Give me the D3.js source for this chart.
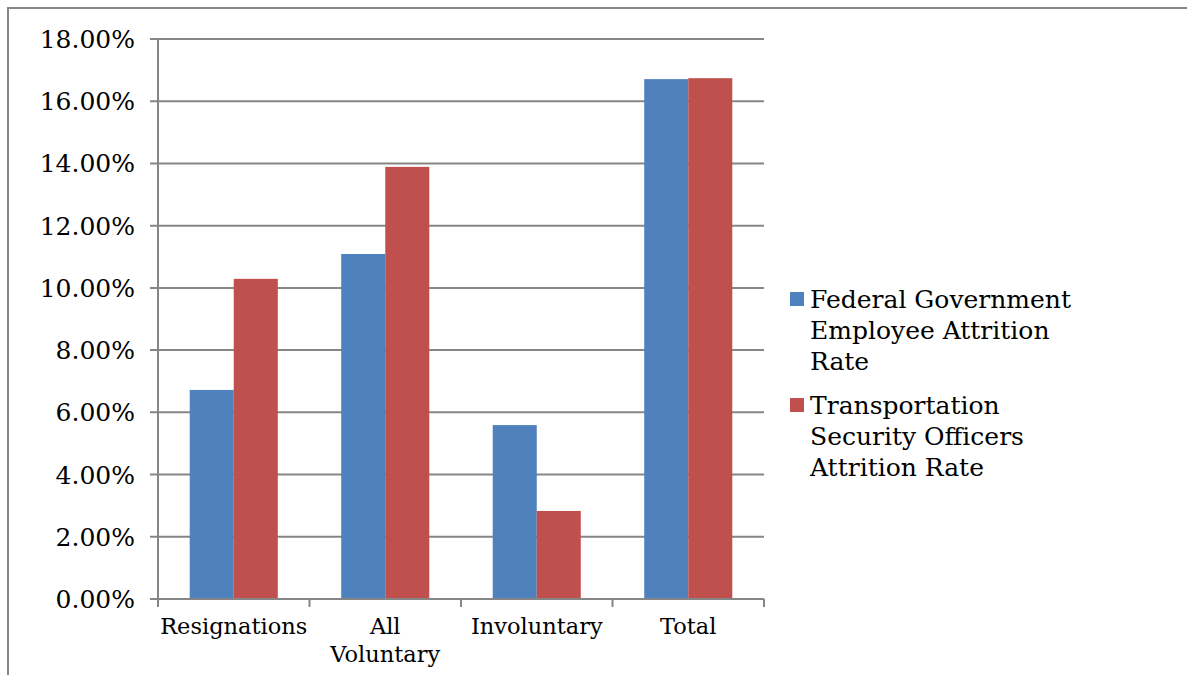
<!DOCTYPE html>
<html>
<head>
<meta charset="utf-8">
<script src="https://cdn.jsdelivr.net/npm/d3@7"></script>
<style>
  body { margin: 0; background: #fff; }
  text { font-family: "DejaVu Serif", serif; fill: #000; }
</style>
</head>
<body>
<svg id="chart" width="1187" height="675"></svg>
<script>
// data
var categories = [["Resignations"], ["All", "Voluntary"], ["Involuntary"], ["Total"]];
var seriesNames = [
  ["Federal Government", "Employee Attrition", "Rate"],
  ["Transportation", "Security Officers", "Attrition Rate"]
];
var federalRates = [0.0672, 0.1109, 0.0559, 0.1671];
var tsoRates = [0.1029, 0.1389, 0.0283, 0.1674];
var yTicks = [0, 0.02, 0.04, 0.06, 0.08, 0.10, 0.12, 0.14, 0.16, 0.18];
var colors = ["#4F81BD", "#C0504D"];

var svg = d3.select("#chart");
var grey = "#868686";

// outer chart border (runs off the right/bottom edges)
svg.append("rect")
  .attr("x", 8).attr("y", 8)
  .attr("width", 1200).attr("height", 700)
  .attr("fill", "none").attr("stroke", grey).attr("stroke-width", 2);

var plotLeft = 158, plotRight = 764, plotTop = 39, plotBottom = 599;

var y = d3.scaleLinear().domain([0, 0.18]).range([plotBottom, plotTop]);
var x0 = d3.scaleBand().domain(d3.range(categories.length)).range([plotLeft, plotRight]).padding(0);
var x1 = d3.scaleBand().domain([0, 1]).range([0, x0.bandwidth()]).paddingInner(0).paddingOuter(0.72);

// gridlines + tick marks
var grid = svg.append("g");
grid.selectAll("line")
  .data(yTicks)
  .enter().append("line")
  .attr("x1", plotLeft - 8).attr("x2", plotRight)
  .attr("y1", function (d) { return y(d); })
  .attr("y2", function (d) { return y(d); })
  .attr("stroke", grey).attr("stroke-width", 2);

grid.selectAll("text")
  .data(yTicks)
  .enter().append("text")
  .attr("x", 135).attr("y", function (d) { return y(d); })
  .attr("dy", "0.36em")
  .attr("text-anchor", "end")
  .style("font-size", "25px")
  .text(function (d) { return d3.format(".2%")(d); });

// bars
var rows = categories.map(function (c, i) { return [federalRates[i], tsoRates[i]]; });
var groups = svg.append("g").selectAll("g")
  .data(rows)
  .enter().append("g")
  .attr("transform", function (d, i) { return "translate(" + x0(i) + ",0)"; });

groups.selectAll("rect")
  .data(function (d) { return d; })
  .enter().append("rect")
  .attr("x", function (d, j) { return x1(j); })
  .attr("width", x1.bandwidth())
  .attr("y", function (d) { return y(d); })
  .attr("height", function (d) { return y(0) - y(d); })
  .attr("fill", function (d, j) { return colors[j]; });

// axes lines
svg.append("line")
  .attr("x1", plotLeft).attr("x2", plotLeft).attr("y1", plotTop).attr("y2", plotBottom)
  .attr("stroke", grey).attr("stroke-width", 2);
svg.append("line")
  .attr("x1", plotLeft - 8).attr("x2", plotRight).attr("y1", plotBottom).attr("y2", plotBottom)
  .attr("stroke", grey).attr("stroke-width", 2);

var xTicks = d3.range(categories.length + 1).map(function (i) {
  return i < categories.length ? x0(i) : plotRight;
});
svg.append("g").selectAll("line")
  .data(xTicks)
  .enter().append("line")
  .attr("x1", function (d) { return d; }).attr("x2", function (d) { return d; })
  .attr("y1", plotBottom).attr("y2", plotBottom + 8)
  .attr("stroke", grey).attr("stroke-width", 2);

// category labels
var labels = svg.append("g").selectAll("text")
  .data(categories)
  .enter().append("text")
  .attr("text-anchor", "middle")
  .attr("x", function (d, i) { return x0(i) + x0.bandwidth() / 2; })
  .attr("y", 634)
  .style("font-size", "22.5px");
labels.selectAll("tspan")
  .data(function (d) { return d; })
  .enter().append("tspan")
  .attr("x", function () { return d3.select(this.parentNode).attr("x"); })
  .attr("dy", function (d, k) { return k === 0 ? 0 : 28; })
  .text(function (d) { return d; });

// legend
var legendY = [299, 405];
var legend = svg.append("g").selectAll("g")
  .data(seriesNames)
  .enter().append("g")
  .attr("transform", function (d, i) { return "translate(790," + legendY[i] + ")"; });

legend.append("rect")
  .attr("x", 0).attr("y", -7)
  .attr("width", 14).attr("height", 14)
  .attr("fill", function (d, i) { return colors[i]; });

legend.append("text")
  .attr("x", 20).attr("y", 0)
  .style("font-size", "25px")
  .selectAll("tspan")
  .data(function (d) { return d; })
  .enter().append("tspan")
  .attr("x", 20)
  .attr("dy", function (d, k) { return k === 0 ? "0.36em" : 31; })
  .text(function (d) { return d; });
</script>
</body>
</html>
